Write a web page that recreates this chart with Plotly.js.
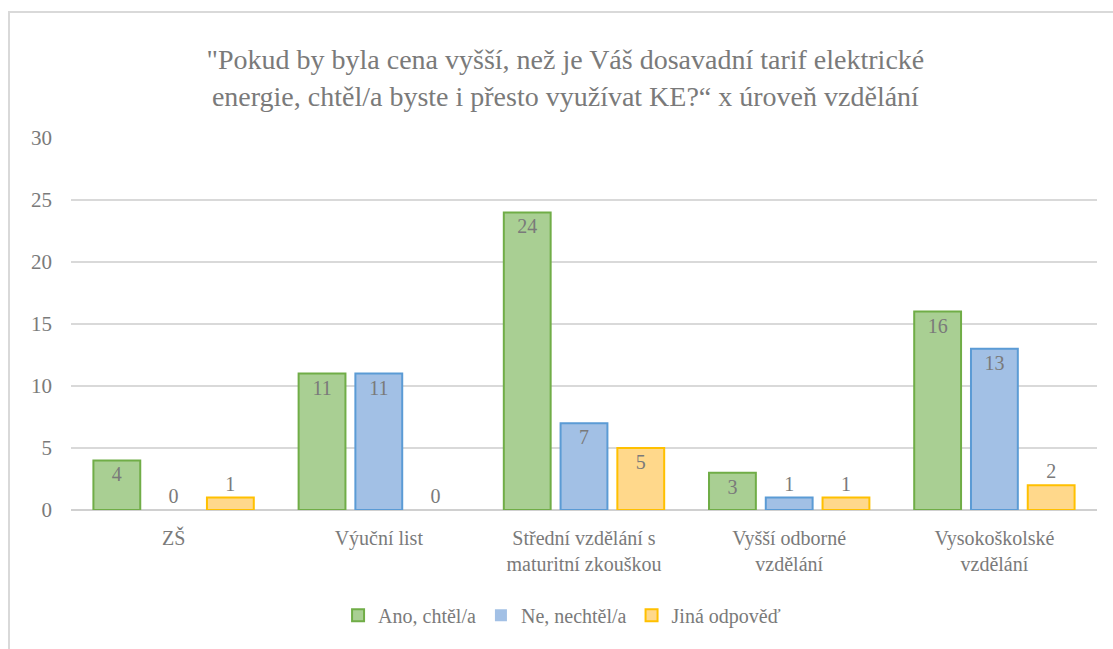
<!DOCTYPE html>
<html>
<head>
<meta charset="utf-8">
<script src="https://cdn.plot.ly/plotly-3.0.1.min.js"></script>
</head>
<body style="margin:0">
<div style="position:relative;width:1113px;height:649px;overflow:hidden">
<div id="chart" style="position:absolute;left:0;top:0;width:1113px;height:649px"></div>
<div style="position:absolute;left:8px;top:11px;width:1200px;height:800px;border-left:2px solid #d9d9d9;border-top:2px solid #d9d9d9;pointer-events:none"></div>
</div>
<script>
const categories = [
  "ZŠ",
  "Výuční list",
  "Střední vzdělání s<br>maturitní zkouškou",
  "Vyšší odborné<br>vzdělání",
  "Vysokoškolské<br>vzdělání"
];
const seriesNames = ["Ano, chtěl/a", "Ne, nechtěl/a", "Jiná odpověď"];
const anoValues = [4, 11, 24, 3, 16];
const neValues = [0, 11, 7, 1, 13];
const jinaValues = [1, 0, 5, 1, 2];
const yTicks = [0, 5, 10, 15, 20, 25, 30];

const fills = ["#a9cf93", "#a2c0e5", "#ffd88b"];
const borders = ["#70ad47", "#5b9bd5", "#ffc000"];
const textColor = "#7a7a7a";
const s = "Times New Roman";

const allValues = [anoValues, neValues, jinaValues];
const traces = allValues.map((vals, i) => ({
  type: "bar",
  name: seriesNames[i],
  x: categories,
  y: vals,
  text: vals.map(String),
  textposition: vals.map(v => (v >= 3 ? "inside" : "outside")),
  insidetextanchor: "end",
  textfont: { family: s, size: 20, color: textColor },
  insidetextfont: { family: s, size: 20, color: textColor },
  outsidetextfont: { family: s, size: 20, color: textColor },
  cliponaxis: false,
  textangle: 0,
  marker: { color: fills[i], line: { color: borders[i], width: vals.map(v => (v > 0 ? 2 : 0)) } }
}));

const layout = {
  width: 1113,
  height: 649,
  paper_bgcolor: "white",
  plot_bgcolor: "white",
  margin: { l: 71, r: 16, t: 138, b: 139 },
  font: { family: s, color: textColor },
  title: {
    text: "\"Pokud by byla cena vyšší, než je Váš dosavadní tarif elektrické<br>energie, chtěl/a byste i přesto využívat KE?“ x úroveň vzdělání",
    font: { family: s, size: 28, color: textColor },
    xref: "container", x: 0.508, xanchor: "center",
    yref: "container", y: 0.893, yanchor: "middle"
  },
  barmode: "group",
  bargap: 0.17,
  bargroupgap: 0.175,
  xaxis: {
    type: "category",
    tickfont: { family: s, size: 20, color: textColor },
    ticks: "",
    showline: false,
    showgrid: false,
    ticklabelstandoff: 14
  },
  yaxis: {
    range: [0, 30],
    tickvals: yTicks,
    ticktext: yTicks.map(String),
    tickfont: { family: s, size: 21, color: textColor },
    showgrid: true,
    gridcolor: "#d9d9d9",
    gridwidth: 1.5,
    zeroline: true,
    zerolinecolor: "#d0d0d0",
    zerolinewidth: 2,
    showline: false,
    ticks: "",
    ticklabelstandoff: 18
  },
  showlegend: true,
  legend: {
    orientation: "h",
    xref: "container", x: 0.505, xanchor: "center",
    yref: "container", y: 0.052, yanchor: "middle",
    font: { family: s, size: 20, color: textColor }
  }
};

Plotly.newPlot("chart", traces, layout, { staticPlot: true });
</script>
</body>
</html>
